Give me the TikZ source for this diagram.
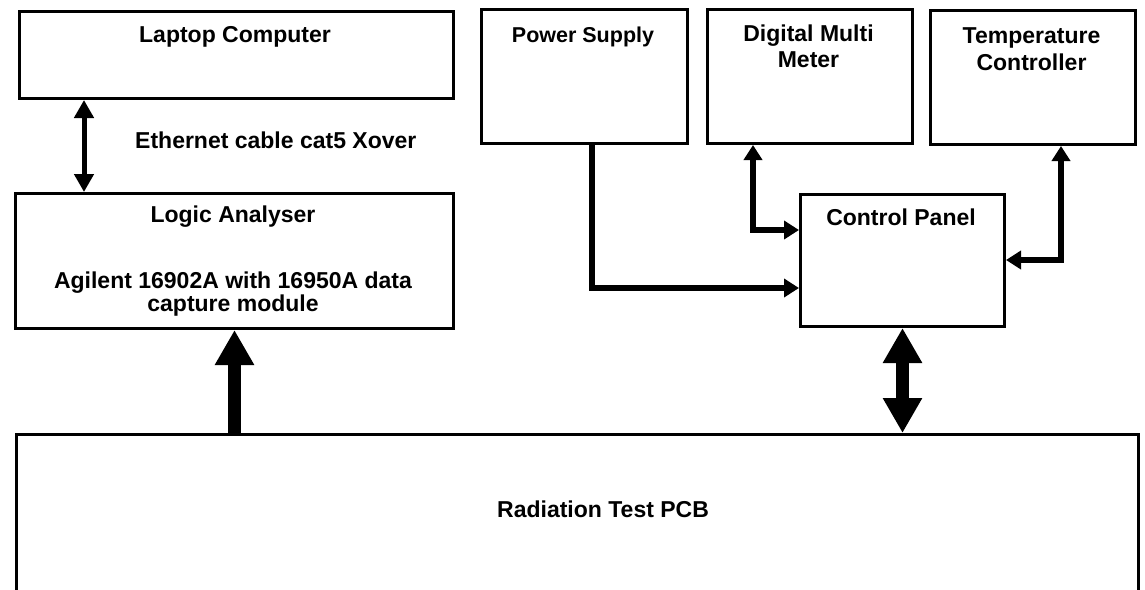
\documentclass[tikz,border=0pt]{standalone}
\usepackage{fontspec}
\setmainfont{Liberation Sans}
\usetikzlibrary{arrows.meta}
\begin{document}
\begin{tikzpicture}[x=1pt,y=-1pt,
  box/.style={draw, line width=3pt, anchor=north west, inner sep=0pt},
  lbl/.style={font=\fontsize{23}{27}\selectfont\bfseries, anchor=base, inner sep=0pt},
  ethlink/.style={line width=5pt, {Triangle[length=18pt,width=19pt]}-{Triangle[length=18pt,width=19pt]}},
  elbow/.style={line width=6.5pt},
  etip/.style={Triangle[length=15pt,width=18pt]},
  bigtip/.style={Triangle[length=35pt,width=37pt]},
  biglink/.style={line width=13pt}
]
\useasboundingbox (0,0) rectangle (1145,589);
\clip (0,0) rectangle (1145,589);

% boxes
\node[box, minimum width=434pt, minimum height=87pt] (laptop) at (18,10) {};
\node[box, minimum width=438pt, minimum height=135pt] (la) at (14,192) {};
\node[box, minimum width=206pt, minimum height=134pt] (ps) at (480,8) {};
\node[box, minimum width=205pt, minimum height=134pt] (dmm) at (706,8) {};
\node[box, minimum width=205pt, minimum height=134pt] (tc) at (929,9) {};
\node[box, minimum width=204pt, minimum height=132pt] (cp) at (799,193) {};
\node[box, minimum width=1122pt, minimum height=200pt] (pcb) at (15,433) {};

% texts
\node[lbl] (tlaptop) at (235,42) {Laptop Computer};
\node[lbl, anchor=base west] (teth) at (135,148) {Ethernet cable cat5 Xover};
\node[lbl] (tla1) at (233,222) {Logic Analyser};
\node[lbl] (tla2) at (233,288) {Agilent 16902A with 16950A data};
\node[lbl] (tla3) at (233,311) {capture module};
\node[lbl, font=\fontsize{21.5}{27}\selectfont\bfseries] (tps) at (583,42) {Power Supply};
\node[lbl] (tdmm1) at (808.5,41) {Digital Multi};
\node[lbl] (tdmm2) at (808.5,67) {Meter};
\node[lbl] (ttc1) at (1031.5,43) {Temperature};
\node[lbl] (ttc2) at (1031.5,70) {Controller};
\node[lbl] (tcp) at (901,225) {Control Panel};
\node[lbl, anchor=base west] (tpcb) at (497,517) {Radiation Test PCB};

% helper coordinates
\coordinate (ethx) at (84,0);
\coordinate (psx) at (592,288);
\coordinate (dmmx) at (753,230);
\coordinate (tcx) at (1061,260);

% connectors
\draw[ethlink] (laptop.south -| ethx) -- (la.north -| ethx);
\draw[elbow, -{Triangle[length=15pt,width=18pt]}] (ps.south -| psx) |- (cp.west |- psx);
\draw[elbow, {Triangle[length=15pt,width=18pt]}-{Triangle[length=15pt,width=18pt]}] (dmm.south -| dmmx) |- (cp.west |- dmmx);
\draw[elbow, {Triangle[length=15pt,width=18pt]}-{Triangle[length=15pt,width=18pt]}] (tc.south -| tcx) |- (cp.east |- tcx);
\draw[biglink, -{Triangle[length=35pt,width=37pt]}] (pcb.north -| la.south) -- (la.south);
\draw[biglink, {Triangle[length=35pt,width=37pt]}-{Triangle[length=35pt,width=37pt]}] (cp.south) -- (pcb.north -| cp.south);
\end{tikzpicture}
\end{document}
